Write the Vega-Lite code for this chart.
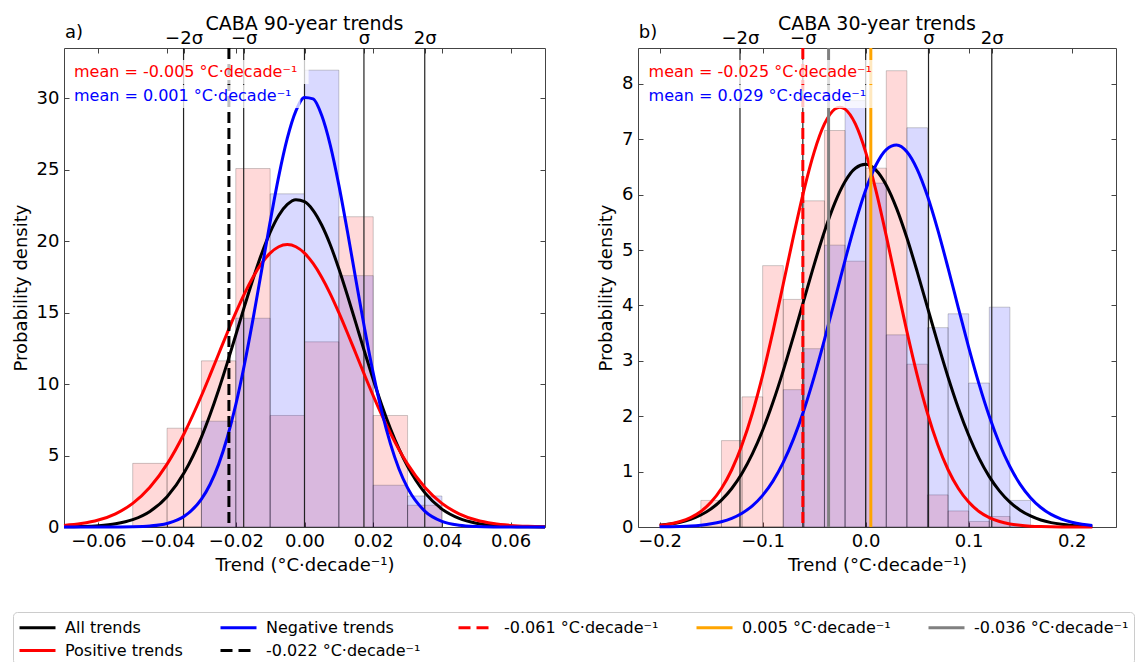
{
  "$schema": "https://vega.github.io/schema/vega-lite/v6.json",
  "padding": {"left": 11, "top": 14, "right": 0, "bottom": 0},
  "background": "white",
  "config": {
    "font": "DejaVu Sans",
    "view": {"stroke": "#444444", "strokeWidth": 1},
    "axis": {"grid": false, "domain": false, "tickColor": "#444444", "tickWidth": 1, "tickSize": -5, "labelPadding": 10, "labelFont": "DejaVu Sans", "labelFontSize": 18, "labelColor": "#000000", "titleFont": "DejaVu Sans", "titleFontSize": 18, "titleFontWeight": "normal", "titleColor": "#000000", "labelFlush": false, "labelOverlap": false, "titlePadding": 6},
    "title": {"font": "DejaVu Sans", "fontSize": 19, "fontWeight": "normal", "color": "#000000", "offset": -10}
  },
  "datasets": {
    "barsA": [
      {"b0": -0.05, "b1": -0.04, "positive": 4.45, "negative": 0},
      {"b0": -0.04, "b1": -0.03, "positive": 6.91, "negative": 0},
      {"b0": -0.03, "b1": -0.02, "positive": 11.62, "negative": 7.4},
      {"b0": -0.02, "b1": -0.01, "positive": 25.07, "negative": 14.6},
      {"b0": -0.01, "b1": 0.0, "positive": 7.8, "negative": 23.3},
      {"b0": 0.0, "b1": 0.01, "positive": 12.95, "negative": 31.95},
      {"b0": 0.01, "b1": 0.02, "positive": 21.7, "negative": 17.58},
      {"b0": 0.02, "b1": 0.03, "positive": 7.8, "negative": 2.92},
      {"b0": 0.03, "b1": 0.04, "positive": 1.52, "negative": 2.17}
    ],
    "barsB": [
      {"b0": -0.16, "b1": -0.14, "positive": 0.48, "negative": 0},
      {"b0": -0.14, "b1": -0.12, "positive": 1.56, "negative": 0},
      {"b0": -0.12, "b1": -0.10, "positive": 2.35, "negative": 0},
      {"b0": -0.10, "b1": -0.08, "positive": 4.72, "negative": 0},
      {"b0": -0.08, "b1": -0.06, "positive": 4.11, "negative": 2.48},
      {"b0": -0.06, "b1": -0.04, "positive": 5.89, "negative": 3.22},
      {"b0": -0.04, "b1": -0.02, "positive": 7.16, "negative": 5.09},
      {"b0": -0.02, "b1": 0.0, "positive": 4.8, "negative": 7.7},
      {"b0": 0.0, "b1": 0.02, "positive": 6.48, "negative": 6.21},
      {"b0": 0.02, "b1": 0.04, "positive": 8.24, "negative": 3.47},
      {"b0": 0.04, "b1": 0.06, "positive": 2.94, "negative": 7.21},
      {"b0": 0.06, "b1": 0.08, "positive": 0.58, "negative": 3.6},
      {"b0": 0.08, "b1": 0.10, "positive": 0.29, "negative": 3.85},
      {"b0": 0.10, "b1": 0.12, "positive": 0.1, "negative": 2.6},
      {"b0": 0.12, "b1": 0.14, "positive": 0.19, "negative": 3.97},
      {"b0": 0.14, "b1": 0.16, "positive": 0, "negative": 0.48}
    ],
    "curvesA": [
      {"x": -0.07, "All trends": 0.011, "Positive trends": 0.112, "Negative trends": 0.0},
      {"x": -0.065, "All trends": 0.033, "Positive trends": 0.24, "Negative trends": 0.0001},
      {"x": -0.06, "All trends": 0.09, "Positive trends": 0.485, "Negative trends": 0.0007},
      {"x": -0.055, "All trends": 0.224, "Positive trends": 0.923, "Negative trends": 0.0039},
      {"x": -0.05, "All trends": 0.515, "Positive trends": 1.652, "Negative trends": 0.018},
      {"x": -0.045, "All trends": 1.089, "Positive trends": 2.78, "Negative trends": 0.072},
      {"x": -0.04, "All trends": 2.123, "Positive trends": 4.4, "Negative trends": 0.249},
      {"x": -0.035, "All trends": 3.81, "Positive trends": 6.56, "Negative trends": 0.747},
      {"x": -0.03, "All trends": 6.29, "Positive trends": 9.18, "Negative trends": 1.944},
      {"x": -0.0275, "All trends": 7.85, "Positive trends": 10.62, "Negative trends": 2.97},
      {"x": -0.025, "All trends": 9.58, "Positive trends": 12.1, "Negative trends": 4.38},
      {"x": -0.0225, "All trends": 11.46, "Positive trends": 13.57, "Negative trends": 6.24},
      {"x": -0.02, "All trends": 13.43, "Positive trends": 14.99, "Negative trends": 8.56},
      {"x": -0.0175, "All trends": 15.41, "Positive trends": 16.31, "Negative trends": 11.35},
      {"x": -0.015, "All trends": 17.33, "Positive trends": 17.47, "Negative trends": 14.52},
      {"x": -0.0125, "All trends": 19.1, "Positive trends": 18.43, "Negative trends": 17.92},
      {"x": -0.01, "All trends": 20.61, "Positive trends": 19.15, "Negative trends": 21.34},
      {"x": -0.0075, "All trends": 21.79, "Positive trends": 19.6, "Negative trends": 24.52},
      {"x": -0.005, "All trends": 22.56, "Positive trends": 19.75, "Negative trends": 27.19},
      {"x": -0.0025, "All trends": 22.89, "Positive trends": 19.6, "Negative trends": 29.1},
      {"x": 0.0, "All trends": 22.75, "Positive trends": 19.15, "Negative trends": 30.04},
      {"x": 0.0025, "All trends": 22.15, "Positive trends": 18.43, "Negative trends": 29.94},
      {"x": 0.005, "All trends": 21.12, "Positive trends": 17.47, "Negative trends": 28.79},
      {"x": 0.0075, "All trends": 19.74, "Positive trends": 16.31, "Negative trends": 26.71},
      {"x": 0.01, "All trends": 18.06, "Positive trends": 14.99, "Negative trends": 23.91},
      {"x": 0.0125, "All trends": 16.19, "Positive trends": 13.57, "Negative trends": 20.66},
      {"x": 0.015, "All trends": 14.22, "Positive trends": 12.1, "Negative trends": 17.23},
      {"x": 0.0175, "All trends": 12.24, "Positive trends": 10.62, "Negative trends": 13.86},
      {"x": 0.02, "All trends": 10.32, "Positive trends": 9.18, "Negative trends": 10.76},
      {"x": 0.0225, "All trends": 8.52, "Positive trends": 7.82, "Negative trends": 8.06},
      {"x": 0.025, "All trends": 6.89, "Positive trends": 6.56, "Negative trends": 5.83},
      {"x": 0.0275, "All trends": 5.46, "Positive trends": 5.41, "Negative trends": 4.06},
      {"x": 0.03, "All trends": 4.24, "Positive trends": 4.4, "Negative trends": 2.74},
      {"x": 0.035, "All trends": 2.4, "Positive trends": 2.78, "Negative trends": 1.115},
      {"x": 0.04, "All trends": 1.252, "Positive trends": 1.652, "Negative trends": 0.393},
      {"x": 0.045, "All trends": 0.601, "Positive trends": 0.923, "Negative trends": 0.12},
      {"x": 0.05, "All trends": 0.266, "Positive trends": 0.485, "Negative trends": 0.032},
      {"x": 0.055, "All trends": 0.109, "Positive trends": 0.24, "Negative trends": 0.0074},
      {"x": 0.06, "All trends": 0.041, "Positive trends": 0.112, "Negative trends": 0.0015},
      {"x": 0.065, "All trends": 0.014, "Positive trends": 0.049, "Negative trends": 0.0003},
      {"x": 0.07, "All trends": 0.0045, "Positive trends": 0.02, "Negative trends": 0.0}
    ],
    "curvesB": [
      {"x": -0.2, "All trends": 0.0315, "Positive trends": 0.03, "Negative trends": 0.0027},
      {"x": -0.19, "All trends": 0.053, "Positive trends": 0.055, "Negative trends": 0.0053},
      {"x": -0.18, "All trends": 0.087, "Positive trends": 0.099, "Negative trends": 0.01},
      {"x": -0.17, "All trends": 0.139, "Positive trends": 0.17, "Negative trends": 0.018},
      {"x": -0.16, "All trends": 0.217, "Positive trends": 0.281, "Negative trends": 0.033},
      {"x": -0.15, "All trends": 0.328, "Positive trends": 0.45, "Negative trends": 0.057},
      {"x": -0.14, "All trends": 0.485, "Positive trends": 0.695, "Negative trends": 0.096},
      {"x": -0.13, "All trends": 0.695, "Positive trends": 1.034, "Negative trends": 0.157},
      {"x": -0.12, "All trends": 0.971, "Positive trends": 1.484, "Negative trends": 0.249},
      {"x": -0.11, "All trends": 1.32, "Positive trends": 2.054, "Negative trends": 0.383},
      {"x": -0.1, "All trends": 1.746, "Positive trends": 2.742, "Negative trends": 0.571},
      {"x": -0.09, "All trends": 2.251, "Positive trends": 3.532, "Negative trends": 0.828},
      {"x": -0.08, "All trends": 2.824, "Positive trends": 4.388, "Negative trends": 1.166},
      {"x": -0.07, "All trends": 3.448, "Positive trends": 5.257, "Negative trends": 1.591},
      {"x": -0.06, "All trends": 4.096, "Positive trends": 6.075, "Negative trends": 2.108},
      {"x": -0.05, "All trends": 4.739, "Positive trends": 6.77, "Negative trends": 2.711},
      {"x": -0.04, "All trends": 5.336, "Positive trends": 7.278, "Negative trends": 3.384},
      {"x": -0.03, "All trends": 5.848, "Positive trends": 7.546, "Negative trends": 4.099},
      {"x": -0.025, "All trends": 6.06, "Positive trends": 7.58, "Negative trends": 4.46},
      {"x": -0.02, "All trends": 6.239, "Positive trends": 7.546, "Negative trends": 4.817},
      {"x": -0.01, "All trends": 6.479, "Positive trends": 7.278, "Negative trends": 5.495},
      {"x": 0.0, "All trends": 6.549, "Positive trends": 6.77, "Negative trends": 6.084},
      {"x": 0.01, "All trends": 6.444, "Positive trends": 6.075, "Negative trends": 6.537},
      {"x": 0.02, "All trends": 6.172, "Positive trends": 5.257, "Negative trends": 6.817},
      {"x": 0.03, "All trends": 5.754, "Positive trends": 4.388, "Negative trends": 6.899},
      {"x": 0.04, "All trends": 5.222, "Positive trends": 3.532, "Negative trends": 6.776},
      {"x": 0.05, "All trends": 4.613, "Positive trends": 2.742, "Negative trends": 6.459},
      {"x": 0.06, "All trends": 3.966, "Positive trends": 2.054, "Negative trends": 5.976},
      {"x": 0.07, "All trends": 3.32, "Positive trends": 1.484, "Negative trends": 5.365},
      {"x": 0.08, "All trends": 2.705, "Positive trends": 1.034, "Negative trends": 4.675},
      {"x": 0.09, "All trends": 2.145, "Positive trends": 0.695, "Negative trends": 3.954},
      {"x": 0.1, "All trends": 1.656, "Positive trends": 0.45, "Negative trends": 3.245},
      {"x": 0.11, "All trends": 1.244, "Positive trends": 0.281, "Negative trends": 2.585},
      {"x": 0.12, "All trends": 0.91, "Positive trends": 0.17, "Negative trends": 1.998},
      {"x": 0.13, "All trends": 0.648, "Positive trends": 0.099, "Negative trends": 1.499},
      {"x": 0.14, "All trends": 0.449, "Positive trends": 0.055, "Negative trends": 1.092},
      {"x": 0.15, "All trends": 0.303, "Positive trends": 0.03, "Negative trends": 0.771},
      {"x": 0.16, "All trends": 0.199, "Positive trends": 0.0156, "Negative trends": 0.529},
      {"x": 0.17, "All trends": 0.127, "Positive trends": 0.0079, "Negative trends": 0.352},
      {"x": 0.18, "All trends": 0.079, "Positive trends": 0.0038, "Negative trends": 0.227},
      {"x": 0.19, "All trends": 0.048, "Positive trends": 0.0018, "Negative trends": 0.143},
      {"x": 0.2, "All trends": 0.028, "Positive trends": 0.0008, "Negative trends": 0.087},
      {"x": 0.21, "All trends": 0.016, "Positive trends": 0.0003, "Negative trends": 0.051},
      {"x": 0.22, "All trends": 0.009, "Positive trends": 0.0001, "Negative trends": 0.029}
    ]
  },
  "spacing": 45,
  "hconcat": [
    {
      "width": 481,
      "height": 479,
      "title": {"text": "CABA 90-year trends"},
      "layer": [
        {
          "data": {"name": "barsA"},
          "mark": {"type": "rect", "fill": "#ff0000", "fillOpacity": 0.15, "stroke": "#000000", "strokeOpacity": 0.2, "strokeWidth": 1},
          "encoding": {
            "x": {"field": "b0", "type": "quantitative", "scale": {"domain": [-0.07, 0.07], "nice": false, "zero": false}, "axis": {"orient": "bottom", "values": [-0.06, -0.04, -0.02, 0, 0.02, 0.04, 0.06], "format": ".2f", "title": "Trend (°C·decade⁻¹)"}},
            "x2": {"field": "b1"},
            "y": {"field": "positive", "type": "quantitative", "scale": {"domain": [0, 33.5], "nice": false}, "axis": {"orient": "left", "values": [0, 5, 10, 15, 20, 25, 30], "format": "d", "title": "Probability density"}},
            "y2": {"datum": 0}
          }
        },
        {
          "data": {"name": "barsA"},
          "mark": {"type": "rect", "fill": "#0000ff", "fillOpacity": 0.15, "stroke": "#000000", "strokeOpacity": 0.2, "strokeWidth": 1},
          "encoding": {
            "x": {"field": "b0", "type": "quantitative", "axis": {"orient": "top", "values": [-0.06, -0.04, -0.02, 0, 0.02, 0.04, 0.06, -0.0352, -0.0177, 0.0173, 0.035], "labelExpr": "datum.value == -0.0352 ? '−2σ' : datum.value == -0.0177 ? '−σ' : datum.value == 0.0173 ? 'σ' : datum.value == 0.035 ? '2σ' : ''", "labelPadding": 6, "title": null}},
            "x2": {"field": "b1"},
            "y": {"field": "negative", "type": "quantitative", "axis": {"orient": "right", "values": [0, 5, 10, 15, 20, 25, 30], "labels": false, "title": null}},
            "y2": {"datum": 0}
          }
        },
        {
          "data": {"values": [{"x": -0.0352}, {"x": -0.0177}, {"x": 0.0}, {"x": 0.0173}, {"x": 0.035}]},
          "mark": {"type": "rule", "color": "#222222", "strokeWidth": 1.2},
          "encoding": {"x": {"field": "x", "type": "quantitative", "axis": null}}
        },
        {
          "data": {"name": "curvesA"},
          "transform": [{"fold": ["All trends", "Positive trends", "Negative trends"], "as": ["series", "density"]}],
          "mark": {"type": "line", "strokeWidth": 3, "interpolate": "monotone"},
          "encoding": {
            "x": {"field": "x", "type": "quantitative", "axis": null},
            "y": {"field": "density", "type": "quantitative", "axis": null},
            "color": {"field": "series", "type": "nominal", "scale": {"domain": ["All trends", "Negative trends", "-0.061 °C·decade⁻¹", "0.005 °C·decade⁻¹", "-0.036 °C·decade⁻¹", "Positive trends", "-0.022 °C·decade⁻¹"], "range": ["#000000", "#0000ff", "#ff0000", "#ffa500", "#808080", "#ff0000", "#000000"]},
              "legend": {"orient": "none", "legendX": -51, "legendY": 564, "direction": "horizontal", "columns": 5, "gridAlign": "each", "title": null, "symbolType": "M-1,0L3,0", "symbolStrokeWidth": 3, "symbolSize": 324, "labelFont": "DejaVu Sans", "labelFontSize": 16, "labelColor": "#000000", "labelLimit": 400, "labelOffset": 26, "columnPadding": 31, "rowPadding": 4, "padding": 5, "strokeColor": "#cccccc", "fillColor": "#ffffff", "cornerRadius": 4,
                "encode": {"symbols": {"update": {"strokeDash": {"signal": "indexof(['-0.022 °C·decade⁻¹', '-0.061 °C·decade⁻¹'], datum.value) >= 0 ? [12, 6] : [1, 0]"}}}}}}
          }
        },
        {
          "data": {"values": [{"series": "-0.022 °C·decade⁻¹", "x": -0.022}]},
          "mark": {"type": "rule", "strokeWidth": 3, "strokeDash": [11, 5]},
          "encoding": {
            "x": {"field": "x", "type": "quantitative", "axis": null},
            "color": {"field": "series", "type": "nominal", "scale": {"domain": ["All trends", "Negative trends", "-0.061 °C·decade⁻¹", "0.005 °C·decade⁻¹", "-0.036 °C·decade⁻¹", "Positive trends", "-0.022 °C·decade⁻¹"], "range": ["#000000", "#0000ff", "#ff0000", "#ffa500", "#808080", "#ff0000", "#000000"]},
              "legend": {"orient": "none", "legendX": -51, "legendY": 564, "direction": "horizontal", "columns": 5, "gridAlign": "each", "title": null, "symbolType": "M-1,0L3,0", "symbolStrokeWidth": 3, "symbolSize": 324, "labelFont": "DejaVu Sans", "labelFontSize": 16, "labelColor": "#000000", "labelLimit": 400, "labelOffset": 26, "columnPadding": 31, "rowPadding": 4, "padding": 5, "strokeColor": "#cccccc", "fillColor": "#ffffff", "cornerRadius": 4,
                "encode": {"symbols": {"update": {"strokeDash": {"signal": "indexof(['-0.022 °C·decade⁻¹', '-0.061 °C·decade⁻¹'], datum.value) >= 0 ? [12, 6] : [1, 0]"}}}}}}
          }
        },
        {
          "data": {"values": [{}]},
          "mark": {"type": "rect", "fill": "#ffffff", "fillOpacity": 0.75},
          "encoding": {"x": {"datum": -0.0677, "axis": null}, "x2": {"datum": 0.0012}, "y": {"datum": 32.66, "axis": null}, "y2": {"datum": 30.98}}
        },
        {
          "data": {"values": [{}]},
          "mark": {"type": "rect", "fill": "#ffffff", "fillOpacity": 0.75},
          "encoding": {"x": {"datum": -0.0677, "axis": null}, "x2": {"datum": -0.0012}, "y": {"datum": 30.91, "axis": null}, "y2": {"datum": 29.3}}
        },
        {
          "data": {"values": [{"label": "mean = -0.005 °C·decade⁻¹"}]},
          "mark": {"type": "text", "align": "left", "baseline": "alphabetic", "fontSize": 16, "color": "#ff0000"},
          "encoding": {"x": {"datum": -0.0671, "axis": null}, "y": {"datum": 31.49, "axis": null}, "text": {"field": "label"}}
        },
        {
          "data": {"values": [{"label": "mean = 0.001 °C·decade⁻¹"}]},
          "mark": {"type": "text", "align": "left", "baseline": "alphabetic", "fontSize": 16, "color": "#0000ff"},
          "encoding": {"x": {"datum": -0.0671, "axis": null}, "y": {"datum": 29.81, "axis": null}, "text": {"field": "label"}}
        },
        {
          "data": {"values": [{"label": "a)"}]},
          "mark": {"type": "text", "align": "left", "baseline": "alphabetic", "fontSize": 18, "color": "#000000"},
          "encoding": {"x": {"datum": -0.0697, "axis": null}, "y": {"datum": 34.2, "axis": null}, "text": {"field": "label"}}
        }
      ]
    },
    {
      "width": 478,
      "height": 479,
      "title": {"text": "CABA 30-year trends"},
      "layer": [
        {
          "data": {"name": "barsB"},
          "mark": {"type": "rect", "fill": "#ff0000", "fillOpacity": 0.15, "stroke": "#000000", "strokeOpacity": 0.2, "strokeWidth": 1},
          "encoding": {
            "x": {"field": "b0", "type": "quantitative", "scale": {"domain": [-0.221, 0.243], "nice": false, "zero": false}, "axis": {"orient": "bottom", "values": [-0.2, -0.1, 0, 0.1, 0.2], "format": ".1f", "title": "Trend (°C·decade⁻¹)"}},
            "x2": {"field": "b1"},
            "y": {"field": "positive", "type": "quantitative", "scale": {"domain": [0, 8.65], "nice": false}, "axis": {"orient": "left", "values": [0, 1, 2, 3, 4, 5, 6, 7, 8], "format": "d", "title": "Probability density"}},
            "y2": {"datum": 0}
          }
        },
        {
          "data": {"name": "barsB"},
          "mark": {"type": "rect", "fill": "#0000ff", "fillOpacity": 0.15, "stroke": "#000000", "strokeOpacity": 0.2, "strokeWidth": 1},
          "encoding": {
            "x": {"field": "b0", "type": "quantitative", "axis": {"orient": "top", "values": [-0.2, -0.1, 0, 0.1, 0.2, -0.122, -0.061, 0.061, 0.1224], "labelExpr": "datum.value == -0.122 ? '−2σ' : datum.value == -0.061 ? '−σ' : datum.value == 0.061 ? 'σ' : datum.value == 0.1224 ? '2σ' : ''", "labelPadding": 6, "title": null}},
            "x2": {"field": "b1"},
            "y": {"field": "negative", "type": "quantitative", "axis": {"orient": "right", "values": [0, 1, 2, 3, 4, 5, 6, 7, 8], "labels": false, "title": null}},
            "y2": {"datum": 0}
          }
        },
        {
          "data": {"values": [{"x": -0.122}, {"x": -0.061}, {"x": 0.0}, {"x": 0.061}, {"x": 0.1224}]},
          "mark": {"type": "rule", "color": "#222222", "strokeWidth": 1.2},
          "encoding": {"x": {"field": "x", "type": "quantitative", "axis": null}}
        },
        {
          "data": {"name": "curvesB"},
          "transform": [{"fold": ["All trends", "Positive trends", "Negative trends"], "as": ["series", "density"]}],
          "mark": {"type": "line", "strokeWidth": 3, "interpolate": "monotone"},
          "encoding": {
            "x": {"field": "x", "type": "quantitative", "axis": null},
            "y": {"field": "density", "type": "quantitative", "axis": null},
            "color": {"field": "series", "type": "nominal", "scale": {"domain": ["All trends", "Negative trends", "-0.061 °C·decade⁻¹", "0.005 °C·decade⁻¹", "-0.036 °C·decade⁻¹", "Positive trends", "-0.022 °C·decade⁻¹"], "range": ["#000000", "#0000ff", "#ff0000", "#ffa500", "#808080", "#ff0000", "#000000"]},
              "legend": {"orient": "none", "legendX": -51, "legendY": 564, "direction": "horizontal", "columns": 5, "gridAlign": "each", "title": null, "symbolType": "M-1,0L3,0", "symbolStrokeWidth": 3, "symbolSize": 324, "labelFont": "DejaVu Sans", "labelFontSize": 16, "labelColor": "#000000", "labelLimit": 400, "labelOffset": 26, "columnPadding": 31, "rowPadding": 4, "padding": 5, "strokeColor": "#cccccc", "fillColor": "#ffffff", "cornerRadius": 4,
                "encode": {"symbols": {"update": {"strokeDash": {"signal": "indexof(['-0.022 °C·decade⁻¹', '-0.061 °C·decade⁻¹'], datum.value) >= 0 ? [12, 6] : [1, 0]"}}}}}}
          }
        },
        {
          "data": {"values": [{"series": "-0.061 °C·decade⁻¹", "x": -0.061}]},
          "mark": {"type": "rule", "strokeWidth": 3, "strokeDash": [11, 5]},
          "encoding": {
            "x": {"field": "x", "type": "quantitative", "axis": null},
            "color": {"field": "series", "type": "nominal", "scale": {"domain": ["All trends", "Negative trends", "-0.061 °C·decade⁻¹", "0.005 °C·decade⁻¹", "-0.036 °C·decade⁻¹", "Positive trends", "-0.022 °C·decade⁻¹"], "range": ["#000000", "#0000ff", "#ff0000", "#ffa500", "#808080", "#ff0000", "#000000"]},
              "legend": {"orient": "none", "legendX": -51, "legendY": 564, "direction": "horizontal", "columns": 5, "gridAlign": "each", "title": null, "symbolType": "M-1,0L3,0", "symbolStrokeWidth": 3, "symbolSize": 324, "labelFont": "DejaVu Sans", "labelFontSize": 16, "labelColor": "#000000", "labelLimit": 400, "labelOffset": 26, "columnPadding": 31, "rowPadding": 4, "padding": 5, "strokeColor": "#cccccc", "fillColor": "#ffffff", "cornerRadius": 4,
                "encode": {"symbols": {"update": {"strokeDash": {"signal": "indexof(['-0.022 °C·decade⁻¹', '-0.061 °C·decade⁻¹'], datum.value) >= 0 ? [12, 6] : [1, 0]"}}}}}}
          }
        },
        {
          "data": {"values": [{"series": "0.005 °C·decade⁻¹", "x": 0.005}, {"series": "-0.036 °C·decade⁻¹", "x": -0.036}]},
          "mark": {"type": "rule", "strokeWidth": 3},
          "encoding": {
            "x": {"field": "x", "type": "quantitative", "axis": null},
            "color": {"field": "series", "type": "nominal", "scale": {"domain": ["All trends", "Negative trends", "-0.061 °C·decade⁻¹", "0.005 °C·decade⁻¹", "-0.036 °C·decade⁻¹", "Positive trends", "-0.022 °C·decade⁻¹"], "range": ["#000000", "#0000ff", "#ff0000", "#ffa500", "#808080", "#ff0000", "#000000"]},
              "legend": {"orient": "none", "legendX": -51, "legendY": 564, "direction": "horizontal", "columns": 5, "gridAlign": "each", "title": null, "symbolType": "M-1,0L3,0", "symbolStrokeWidth": 3, "symbolSize": 324, "labelFont": "DejaVu Sans", "labelFontSize": 16, "labelColor": "#000000", "labelLimit": 400, "labelOffset": 26, "columnPadding": 31, "rowPadding": 4, "padding": 5, "strokeColor": "#cccccc", "fillColor": "#ffffff", "cornerRadius": 4,
                "encode": {"symbols": {"update": {"strokeDash": {"signal": "indexof(['-0.022 °C·decade⁻¹', '-0.061 °C·decade⁻¹'], datum.value) >= 0 ? [12, 6] : [1, 0]"}}}}}}
          }
        },
        {
          "data": {"values": [{}]},
          "mark": {"type": "rect", "fill": "#ffffff", "fillOpacity": 0.75},
          "encoding": {"x": {"datum": -0.2143, "axis": null}, "x2": {"datum": 0.0122}, "y": {"datum": 8.433, "axis": null}, "y2": {"datum": 8.0}}
        },
        {
          "data": {"values": [{}]},
          "mark": {"type": "rect", "fill": "#ffffff", "fillOpacity": 0.75},
          "encoding": {"x": {"datum": -0.2143, "axis": null}, "x2": {"datum": 0.0074}, "y": {"datum": 7.981, "axis": null}, "y2": {"datum": 7.566}}
        },
        {
          "data": {"values": [{"label": "mean = -0.025 °C·decade⁻¹"}]},
          "mark": {"type": "text", "align": "left", "baseline": "alphabetic", "fontSize": 16, "color": "#ff0000"},
          "encoding": {"x": {"datum": -0.2107, "axis": null}, "y": {"datum": 8.131, "axis": null}, "text": {"field": "label"}}
        },
        {
          "data": {"values": [{"label": "mean = 0.029 °C·decade⁻¹"}]},
          "mark": {"type": "text", "align": "left", "baseline": "alphabetic", "fontSize": 16, "color": "#0000ff"},
          "encoding": {"x": {"datum": -0.2107, "axis": null}, "y": {"datum": 7.698, "axis": null}, "text": {"field": "label"}}
        },
        {
          "data": {"values": [{"label": "b)"}]},
          "mark": {"type": "text", "align": "left", "baseline": "alphabetic", "fontSize": 18, "color": "#000000"},
          "encoding": {"x": {"datum": -0.2203, "axis": null}, "y": {"datum": 8.83, "axis": null}, "text": {"field": "label"}}
        }
      ]
    }
  ]
}
